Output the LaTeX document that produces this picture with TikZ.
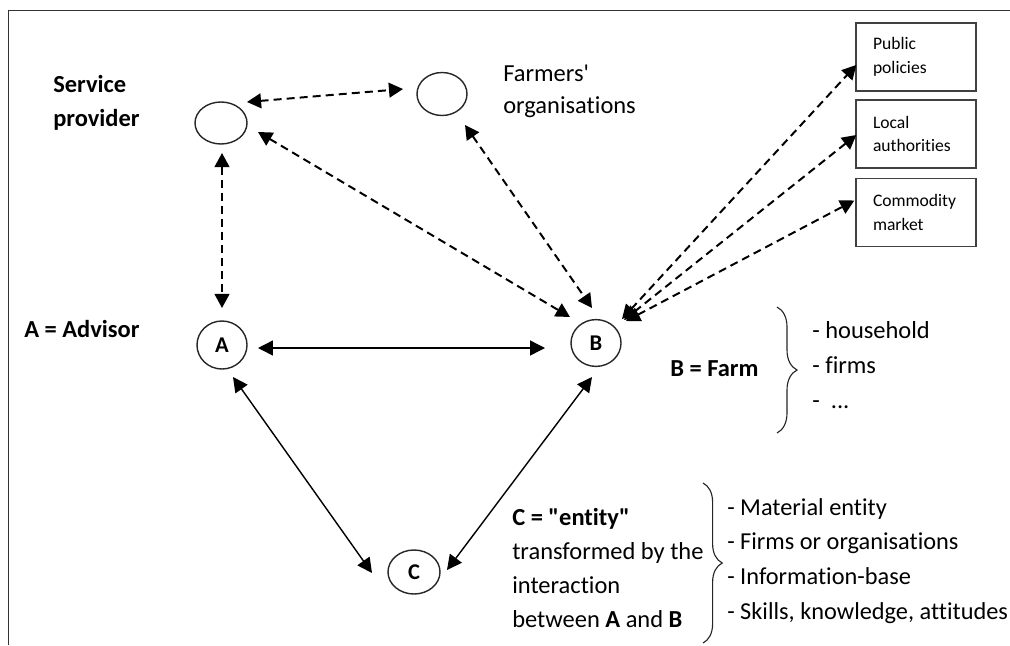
\documentclass[tikz,border=0pt]{standalone}
\usepackage{fontspec}
\setmainfont{Carlito}[Ligatures=NoCommon]
\usetikzlibrary{shapes.geometric,arrows.meta,calc,decorations.pathreplacing}
\newcommand{\mylines}[1]{\begin{tabular}[t]{@{}l@{}}#1\end{tabular}}
\begin{document}
\begin{tikzpicture}[x=0.025cm,y=-0.025cm,
  ent/.style={ellipse, draw=black!85, line width=1pt, inner sep=0pt,
    font=\fontsize{16}{18}\selectfont\bfseries},
  box/.style={draw=black!75, line width=1pt, minimum width=3cm, minimum height=1.7cm,
    text width=2.15cm, inner xsep=0.425cm, inner ysep=0pt, align=left,
    font=\fontsize{12.5}{17}\selectfont},
  lbl/.style={anchor=base west, inner sep=0pt},
  darr/.style={line width=1.4pt, dash pattern=on 5.7pt off 3.6pt,
    {Triangle[length=10pt,width=10.5pt]}-{Triangle[length=10pt,width=10.5pt]}},
  sarr/.style={line width=1pt,
    {Triangle[length=10.5pt,width=10.5pt]}-{Triangle[length=10.5pt,width=10.5pt]}},
  brc/.style={decorate, line width=0.8pt, draw=black!85}
]
\useasboundingbox (0,0) rectangle (1010,645);
\draw[line width=1pt, draw=black!80] (8.5,645) -- (8.5,10.5) -- (1010,10.5);

% entities
\node[ent, minimum width=1.3cm, minimum height=1.05cm] (SP) at (221,123) {};
\node[ent, minimum width=1.25cm, minimum height=1.075cm] (FO) at (442,94) {};
\node[ent, minimum width=1.25cm, minimum height=1.2cm] (A) at (222,345) {A};
\node[ent, minimum width=1.25cm, minimum height=1.17cm] (B) at (596,343) {B};
\node[ent, minimum width=1.3cm, minimum height=1.1cm] (C) at (414,572) {C};

% boxes
\node[box] (PP) at (916,57) {Public\\policies};
\node[box] (LA) at (916,134) {Local\\authorities};
\node[box] (CM) at (916,212.5) {Commodity\\market};

% labels
\node[lbl, font=\fontsize{17.4}{24.2}\selectfont\bfseries] (sptext) at (53,92) {\mylines{Service\\provider}};
\node[lbl, font=\fontsize{17.4}{22.8}\selectfont] (fotext) at (503,81) {\mylines{Farmers\textquotesingle\\organisations}};
\node[lbl, font=\fontsize{17.4}{24}\selectfont\bfseries] (atext) at (24,337) {A = Advisor};
\node[lbl, font=\fontsize{17.4}{24}\selectfont\bfseries] (btext) at (670,376) {B = Farm};
\node[lbl, font=\fontsize{17.4}{24.9}\selectfont] (blist) at (812,338) {\mylines{- household\\- firms\\- \ ...}};
\node[lbl, font=\fontsize{17.4}{24.4}\selectfont] (ctext) at (512,525) {\mylines{\textbf{C = \textquotedbl entity\textquotedbl}\\transformed by the\\interaction\\between \textbf{A} and \textbf{B}}};
\node[lbl, font=\fontsize{17.3}{24.7}\selectfont] (clist) at (727,515) {\mylines{- Material entity\\- Firms or organisations\\- Information-base\\- Skills, knowledge, attitudes}};

% dashed connectors
\draw[darr] ($(SP)+(26,-21)$) -- ($(FO)+(-39,-5)$);
\draw[darr] ($(SP)+(1,30)$) -- ($(A)+(0,-37)$);
\draw[darr] ($(SP)+(37,9)$) -- ($(B)+(-26,-26)$);
\draw[darr] ($(FO)+(23,31)$) -- ($(B)+(-4,-35)$);
\draw[darr] ($(B)+(26,-24)$) -- ($(PP.west)+(1,8)$);
\draw[darr] ($(B)+(28,-23)$) -- ($(LA.west)+(1,1)$);
\draw[darr] ($(B)+(30,-22)$) -- ($(CM.west)+(-1,-12)$);

% solid connectors
\draw[sarr] ($(A)+(36,3)$) -- ($(B)+(-51,5)$);
\draw[sarr] ($(A)+(11,32)$) -- ($(C)+(-42,1)$);
\draw[sarr] ($(B)+(-4,34)$) -- ($(C)+(33,-2)$);

% braces
\draw[brc, decoration={brace,amplitude=0.5cm}] (777,307) -- (777,433);
\draw[brc, decoration={brace,amplitude=0.48cm}] (703,483) -- (703,643);
\end{tikzpicture}
\end{document}
